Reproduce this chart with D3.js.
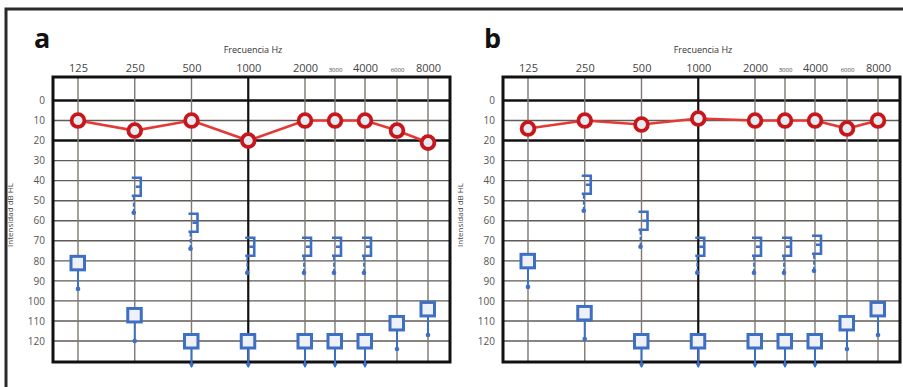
<!DOCTYPE html>
<html>
<head>
<meta charset="utf-8">
<script src="https://cdn.jsdelivr.net/npm/d3@7"></script>
<style>
  body { margin: 0; background: #fff; }
  svg text { font-family: "Open Sans", "DejaVu Sans", sans-serif; }
</style>
</head>
<body>
<div id="chart"></div>
<script>
// frequencies (Hz) and labels on the top axis
var freqs = [125, 250, 500, 1000, 2000, 3000, 4000, 6000, 8000];
var freqLabels = ["125", "250", "500", "1000", "2000", "3000", "4000", "6000", "8000"];
var smallLabels = ["3000", "6000"];
var dbTicks = [0, 10, 20, 30, 40, 50, 60, 70, 80, 90, 100, 110, 120];
var thickDb = [0, 20];

// bone conduction (masked) frequencies
var boneFreqs = [250, 500, 1000, 2000, 3000, 4000];

// panel a
var airA = [10, 15, 10, 20, 10, 10, 10, 15, 21];
var boneA = [43, 61, 73, 73, 73, 73];
var maskA = [81, 107, 120, 120, 120, 120, 120, 111, 104];

// panel b
var airB = [14, 10, 12, 9, 10, 10, 10, 14, 10];
var boneB = [42, 60, 73, 73, 73, 72];
var maskB = [80, 106, 120, 120, 120, 120, 120, 111, 104];

var panelNames = ["a", "b"];

var W = 903, H = 387;
var svg = d3.select("#chart").append("svg").attr("width", W).attr("height", H);

var plotW = 397, plotH = 285;
var red = "#e43a36", redDark = "#c8171c", blue = "#3d6fc4";
var stemDb = 13;

// outer frame
svg.append("path").attr("d", "M6,387 V9 H903")
  .attr("fill", "none").attr("stroke", "#2a2a2a").attr("stroke-width", 3);

// audiogram layout: octaves equally spaced, 3000/6000 half way between neighbours
var x = d3.scaleLog()
  .domain([125, 2000, 3000, 4000, 6000, 8000])
  .range([25, 252, 282, 312, 344, 375]);
var y = d3.scaleLinear().domain([0, 120]).range([23.5, 264]);

function drawPanel(offX, name, air, bone, mask) {
  var g = svg.append("g").attr("transform", "translate(" + (offX + 53) + ",77)");

  // panel letter
  svg.append("text").attr("x", offX + 34).attr("y", 48)
    .attr("font-size", 27).attr("font-weight", "bold").attr("fill", "#111")
    .text(name);

  svg.append("text").attr("x", offX + 253).attr("y", 53)
    .attr("text-anchor", "middle").attr("font-size", 9).attr("fill", "#333")
    .text("Frecuencia Hz");

  svg.append("text")
    .attr("transform", "translate(" + (offX + 13) + ",215) rotate(-90)")
    .attr("text-anchor", "middle").attr("font-size", 8).attr("fill", "#444")
    .text("Intensidad  dB HL");

  // grid
  g.selectAll(".hg").data(dbTicks).enter().append("line")
    .attr("x1", 0).attr("x2", plotW)
    .attr("y1", function(d){ return y(d); }).attr("y2", function(d){ return y(d); })
    .attr("stroke", function(d){ return thickDb.indexOf(d) >= 0 ? "#111" : "#5f5b57"; })
    .attr("stroke-width", function(d){ return thickDb.indexOf(d) >= 0 ? 2.5 : 1.4; });

  g.selectAll(".vg").data(freqs).enter().append("line")
    .attr("y1", 0).attr("y2", plotH)
    .attr("x1", function(d){ return x(d); }).attr("x2", function(d){ return x(d); })
    .attr("stroke", function(d){ return d == 1000 ? "#111" : "#7d7873"; })
    .attr("stroke-width", function(d){ return d == 1000 ? 2.2 : 1.4; });

  g.append("rect").attr("width", plotW).attr("height", plotH)
    .attr("fill", "none").attr("stroke", "#111").attr("stroke-width", 3);

  // axes
  var top = g.append("g").call(d3.axisTop(x).tickValues(freqs)
      .tickFormat(function(d, i){ return freqLabels[i]; }).tickSize(0).tickPadding(5));
  top.select(".domain").remove();
  top.selectAll("text").attr("fill", "#444")
    .attr("font-size", function(d, i){ return smallLabels.indexOf(freqLabels[i]) >= 0 ? 6 : 11; });

  var left = g.append("g").call(d3.axisLeft(y).tickValues(dbTicks).tickSize(0).tickPadding(8));
  left.select(".domain").remove();
  left.selectAll("text").attr("fill", "#555").attr("font-size", 10);

  // masked air conduction: squares with stems
  var mk = g.selectAll(".mk").data(freqs).enter().append("g");
  mk.append("line")
    .attr("x1", function(d){ return x(d); }).attr("x2", function(d){ return x(d); })
    .attr("y1", function(d, i){ return y(mask[i]) + 6; })
    .attr("y2", function(d, i){ return y(mask[i] + stemDb); })
    .attr("stroke", blue).attr("stroke-width", 2);
  mk.each(function(d, i){
    var cx = x(d), ey = y(mask[i] + stemDb);
    if (ey > plotH) {
      d3.select(this).append("path")
        .attr("d", "M" + (cx - 3) + "," + (ey - 4) + " L" + (cx + 3) + "," + (ey - 4) + " L" + cx + "," + (ey + 1) + "Z")
        .attr("fill", blue);
    } else {
      d3.select(this).append("circle").attr("cx", cx).attr("cy", ey).attr("r", 2.3).attr("fill", blue);
    }
  });
  mk.append("rect")
    .attr("x", function(d){ return x(d) - 7; })
    .attr("y", function(d, i){ return y(mask[i]) - 6.5; })
    .attr("width", 13.5).attr("height", 13.5)
    .attr("fill", "#eef2f8").attr("stroke", blue).attr("stroke-width", 3);

  // masked bone conduction: brackets
  var bk = g.selectAll(".bk").data(boneFreqs).enter().append("g");
  bk.append("path")
    .attr("d", function(d, i){
      var cx = x(d), cy = y(bone[i]);
      return "M" + (cx - 3) + "," + (cy - 9) + " H" + (cx + 6) + " V" + (cy + 9) + " H" + (cx - 3) +
             " M" + (cx + 6) + "," + cy + " H" + (cx + 1);
    })
    .attr("fill", "none").attr("stroke", blue).attr("stroke-width", 2.6);
  bk.append("line")
    .attr("x1", function(d){ return x(d) - 1; }).attr("x2", function(d){ return x(d) - 1; })
    .attr("y1", function(d, i){ return y(bone[i]) + 10; })
    .attr("y2", function(d, i){ return y(bone[i] + stemDb); })
    .attr("stroke", blue).attr("stroke-width", 1.8).attr("stroke-dasharray", "4,2");
  bk.append("circle")
    .attr("cx", function(d){ return x(d) - 1; })
    .attr("cy", function(d, i){ return y(bone[i] + stemDb); })
    .attr("r", 2.3).attr("fill", blue);

  // air conduction: red line with circles
  var line = d3.line().x(function(d){ return x(d.f); }).y(function(d){ return y(d.v); });
  var pts = freqs.map(function(f, i){ return {f: f, v: air[i]}; });
  g.append("path").datum(pts).attr("d", line)
    .attr("fill", "none").attr("stroke", red).attr("stroke-width", 2.6);
  g.selectAll(".ac").data(pts).enter().append("circle")
    .attr("cx", function(d){ return x(d.f); }).attr("cy", function(d){ return y(d.v); })
    .attr("r", 6.4).attr("fill", "#e4ecf2").attr("stroke", redDark).attr("stroke-width", 3.8);
}

drawPanel(0, panelNames[0], airA, boneA, maskA);
drawPanel(450, panelNames[1], airB, boneB, maskB);
</script>
</body>
</html>
